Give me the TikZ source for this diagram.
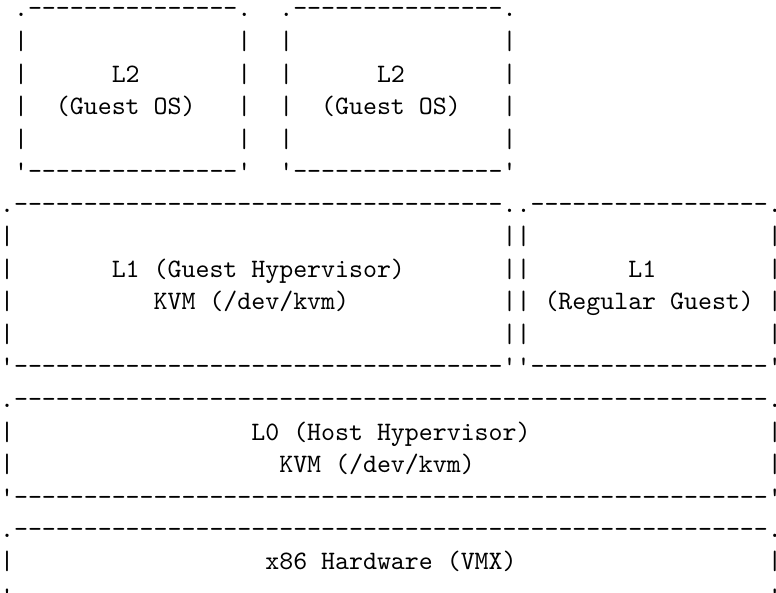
\documentclass[tikz,border=0pt]{standalone}
% repeat a piece of text a given number of times
\ExplSyntaxOn
\cs_new:Npn \rpt #1#2 { \prg_replicate:nn {#1} {#2} }
\ExplSyntaxOff
\frenchspacing
% typewriter face at the 10pt design size, scaled up
\font\asciitt="[lmmono10-regular.otf]" at 26.69pt
\tikzset{
  asciirow/.style={anchor=base west, inner sep=0pt, outer sep=0pt,
    font=\asciitt}
}
\begin{document}
\begin{tikzpicture}[x=1bp,y=-1bp]
\useasboundingbox (0,0) rectangle (776,593);
\def\xo{0.1}
% two L2 guests
\node[asciirow] (r0)  at (\xo, 17.0) {~.\rpt{15}{-}.~~.\rpt{15}{-}.};
\node[asciirow] (r1)  at (\xo, 49.5) {~|\rpt{15}{~}|~~|\rpt{15}{~}|};
\node[asciirow] (r2)  at (\xo, 82.1) {~|\rpt{6}{~}L2\rpt{7}{~}|~~|\rpt{6}{~}L2\rpt{7}{~}|};
\node[asciirow] (r3)  at (\xo,114.6) {~|~~(Guest~OS)~~~|~~|~~(Guest~OS)~~~|};
\node[asciirow] (r4)  at (\xo,147.2) {~|\rpt{15}{~}|~~|\rpt{15}{~}|};
\node[asciirow] (r5)  at (\xo,179.7) {~'\rpt{15}{-}'~~'\rpt{15}{-}'};
% L1 guest hypervisor and regular guest
\node[asciirow] (r6)  at (\xo,212.2) {.\rpt{35}{-}..\rpt{17}{-}.};
\node[asciirow] (r7)  at (\xo,244.8) {|\rpt{35}{~}||\rpt{17}{~}|};
\node[asciirow] (r8)  at (\xo,277.3) {|\rpt{7}{~}L1~(Guest~Hypervisor)\rpt{7}{~}||\rpt{7}{~}L1\rpt{8}{~}|};
\node[asciirow] (r9)  at (\xo,309.9) {|\rpt{10}{~}KVM~(/dev/kvm)\rpt{11}{~}||~(Regular~Guest)~|};
\node[asciirow] (r10) at (\xo,342.4) {|\rpt{35}{~}||\rpt{17}{~}|};
\node[asciirow] (r11) at (\xo,374.9) {'\rpt{35}{-}''\rpt{17}{-}'};
% L0 host hypervisor
\node[asciirow] (r12) at (\xo,407.5) {.\rpt{54}{-}.};
\node[asciirow] (r13) at (\xo,440.0) {|\rpt{17}{~}L0~(Host~Hypervisor)\rpt{17}{~}|};
\node[asciirow] (r14) at (\xo,472.6) {|\rpt{19}{~}KVM~(/dev/kvm)\rpt{21}{~}|};
\node[asciirow] (r15) at (\xo,505.1) {'\rpt{54}{-}'};
% hardware
\node[asciirow] (r16) at (\xo,537.6) {.\rpt{54}{-}.};
\node[asciirow] (r17) at (\xo,569.4) {|\rpt{18}{~}x86~Hardware~(VMX)\rpt{18}{~}|};
\node[asciirow] (r18) at (\xo,605.0) {'\rpt{54}{-}'};
\end{tikzpicture}
\end{document}
